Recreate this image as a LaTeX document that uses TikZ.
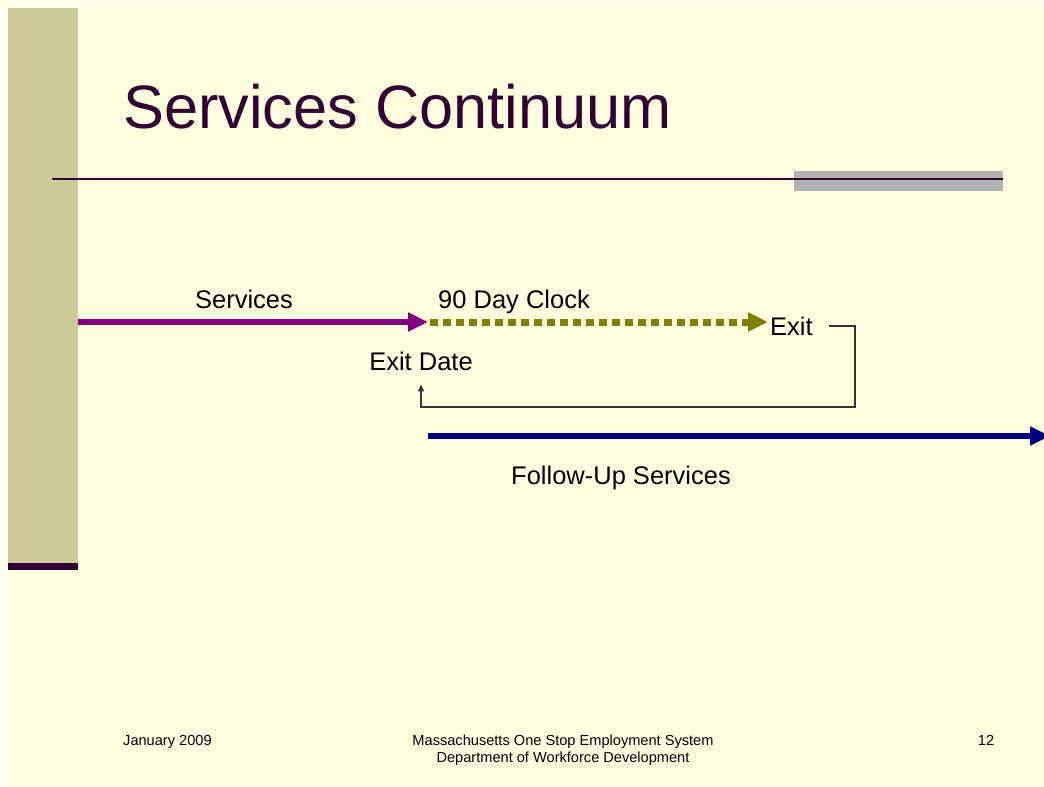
\documentclass[tikz,border=0pt]{standalone}
\usepackage{fontspec}
\setmainfont{Liberation Sans}
\usetikzlibrary{arrows.meta}
\definecolor{bgc}{RGB}{255,255,224}
\definecolor{outer}{RGB}{255,255,238}
\definecolor{barc}{RGB}{204,204,153}
\definecolor{darkp}{RGB}{51,0,51}
\definecolor{grayb}{RGB}{178,178,178}
\definecolor{purp}{RGB}{128,0,128}
\definecolor{olivec}{RGB}{128,128,0}
\definecolor{navyc}{RGB}{0,0,128}
\tikzset{
  lbl/.style={inner sep=0pt, anchor=base, text=black, font=\fontsize{25.5}{30}\selectfont},
  foot/.style={inner sep=0pt, anchor=base, text=black, font=\fontsize{14.6}{17}\selectfont},
}
\begin{document}
\begin{tikzpicture}[x=1pt,y=-1pt]
\useasboundingbox (0,0) rectangle (1044,787);
\fill[outer] (0,0) rectangle (1044,787);
\fill[bgc] (8,8) rectangle (1044,787);
% left bar
\fill[barc] (8,8) rectangle (78,565);
\fill[darkp] (8,563) rectangle (78,570);
% title
\node[inner sep=0pt, anchor=base west, text=darkp, font=\fontsize{61.3}{70}\selectfont] (title) at (123,128) {Services Continuum};
% rule
\fill[grayb] (794,171) rectangle (1003,191);
\draw[darkp, line width=2pt] (52,179) -- (1003,179);
% coordinates
\coordinate (s0) at (78,322);
\coordinate (s1) at (428,322);
\coordinate (c1) at (768,322);
\coordinate (f0) at (428,436);
\coordinate (f1) at (1050,436);
% labels
\node[lbl] (serv) at (244,308) {Services};
\node[lbl, anchor=base west] (clock) at (438,308) {90 Day Clock};
\node[lbl, anchor=base west] (exit) at (770,335) {Exit};
\node[lbl] (exitdate) at (421,370) {Exit Date};
\node[lbl] (follow) at (621,484) {Follow-Up Services};
% arrows
\draw[purp, line width=6pt, -{Triangle[length=20pt,width=18pt]}] (s0) -- (s1);
\draw[olivec, line width=7pt, dash pattern=on 8pt off 5pt, -{Triangle[length=20pt,width=18pt]}] ([xshift=2pt]s1) -- (c1);
\draw[navyc, line width=6.5pt, -{Triangle[length=20pt,width=18pt]}] (f0) -- (f1);
% loop
\draw[black!80, line width=1.5pt, -{Triangle[length=7pt,width=6pt]}] ([xshift=16pt]exit.east |- 0,326) -| (855,407) -| ([yshift=-14pt]exitdate.south);
% footer
\node[foot, anchor=base west] (date) at (123,745) {January 2009};
\node[foot] (sys) at (563,745) {Massachusetts One Stop Employment System};
\node[foot] (dept) at (563,762) {Department of Workforce Development};
\node[foot] (num) at (986,745) {12};
\end{tikzpicture}
\end{document}
